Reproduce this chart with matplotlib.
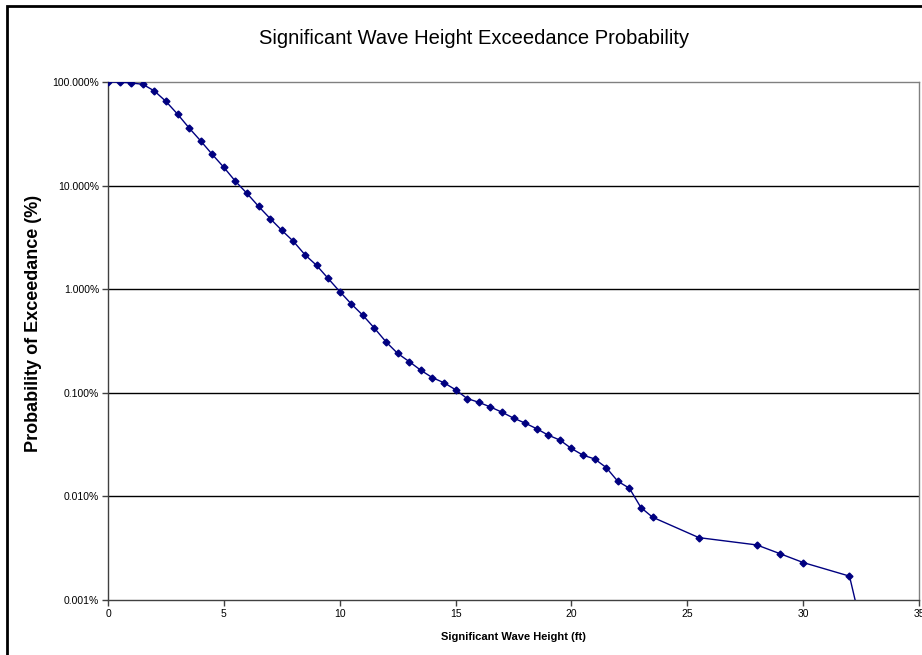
import matplotlib
matplotlib.use("Agg")
import matplotlib.pyplot as plt
from matplotlib.ticker import FuncFormatter, FixedLocator, NullLocator
from matplotlib.patches import Rectangle

plt.rcParams['font.family'] = ['Liberation Sans', 'DejaVu Sans']

wave_height_ft = [0, 0.5, 1, 1.5, 2, 2.5, 3, 3.5, 4, 4.5, 5, 5.5, 6, 6.5, 7, 7.5, 8,
                  8.5, 9, 9.5, 10, 10.5, 11, 11.5, 12, 12.5, 13, 13.5, 14, 14.5, 15,
                  15.5, 16, 16.5, 17, 17.5, 18, 18.5, 19, 19.5, 20, 20.5, 21, 21.5, 22,
                  22.5, 23, 23.5, 25.5, 28, 29, 30, 32, 32.5]
exceedance = [1.0, 0.995, 0.98, 0.95, 0.82, 0.65, 0.49, 0.36, 0.27, 0.20, 0.15, 0.11,
              0.084, 0.063, 0.048, 0.037, 0.029, 0.0215, 0.017, 0.0127, 0.0095, 0.0072,
              0.0056, 0.0042, 0.0031, 0.0024, 0.0020, 0.00165, 0.0014, 0.00125, 0.00107,
              0.00088, 0.00081, 0.00073, 0.00065, 0.00057, 0.00051, 0.00045, 0.00039,
              0.00035, 0.00029, 0.00025, 0.00023, 0.00019, 0.00014, 0.00012, 0.000078,
              0.000063, 0.000040, 0.000034, 0.000028, 0.000023, 0.000017, 0.0000057]
show_marker = [True] * (len(wave_height_ft) - 1) + [False]

x_ticks = [0, 5, 10, 15, 20, 25, 30, 35]
y_ticks = [1e-5, 1e-4, 1e-3, 1e-2, 1e-1, 1.0]

W, H = 922, 655
fig = plt.figure(figsize=(W / 100, H / 100), dpi=100)
fig.patch.set_facecolor('white')

# chart area border
fig.add_artist(Rectangle((7 / W, -0.05), 1.2, 1 - 6 / H + 0.05, transform=fig.transFigure,
                         fill=False, edgecolor='black', linewidth=2))

left, right, top, bottom = 108, 919, 82, 600
ax = fig.add_axes([left / W, 1 - bottom / H, (right - left) / W, (bottom - top) / H])
ax.set_yscale('log')
ax.set_xlim(0, 35)
ax.set_ylim(1e-5, 1.0)

ax.plot(wave_height_ft, exceedance, color='#000080', linewidth=1.0, zorder=3,
        marker='D', markersize=3.5, markevery=show_marker, clip_on=True)

ax.yaxis.set_major_locator(FixedLocator(y_ticks))
ax.yaxis.set_minor_locator(NullLocator())
ax.yaxis.set_major_formatter(FuncFormatter(lambda v, p: f"{v * 100:.3f}%"))
ax.set_xticks(x_ticks)
ax.set_xticklabels([str(t) for t in x_ticks])

for yv in y_ticks[1:-1]:
    ax.axhline(yv, color='black', linewidth=1.0, zorder=1)

ax.spines['left'].set_color('#404040')
ax.spines['bottom'].set_color('#404040')
ax.spines['top'].set_color('#808080')
ax.spines['right'].set_color('#808080')
for s in ax.spines.values():
    s.set_linewidth(1.0)

ax.tick_params(axis='both', which='major', labelsize=7.5, length=4, width=1,
               direction='out', color='#404040', pad=2.5)

ax.set_xlabel('Significant Wave Height (ft)', fontsize=8, fontweight='bold', labelpad=9)

fig.text(34 / W, 1 - 323 / H, 'Probability of Exceedance (%)', rotation=90,
         ha='center', va='center', fontsize=13, fontweight='bold')

fig.text(474 / W, 1 - 38 / H, 'Significant Wave Height Exceedance Probability',
         ha='center', va='center', fontsize=14.5)

fig.savefig('out.png', dpi=100)
